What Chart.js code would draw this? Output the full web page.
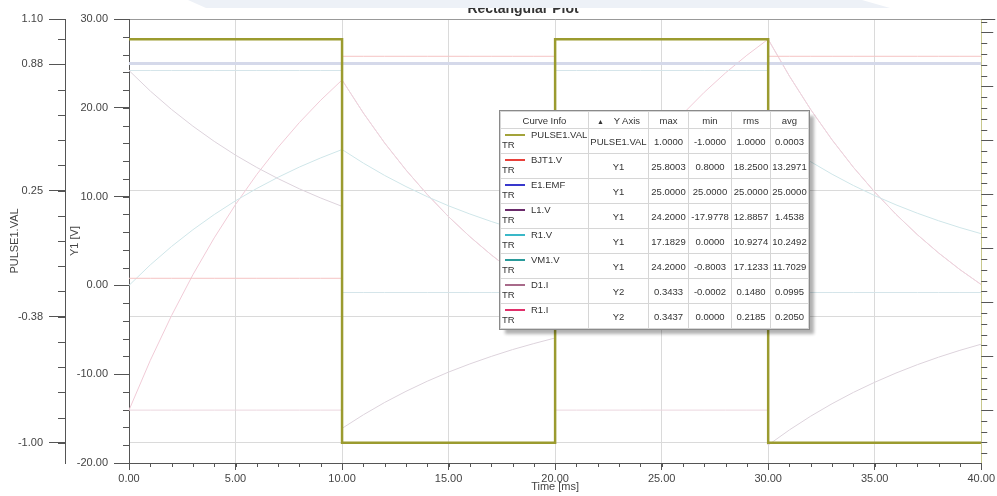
<!DOCTYPE html>
<html>
<head>
<meta charset="utf-8">
<script src="https://cdn.jsdelivr.net/npm/chart.js@4.4.1/dist/chart.umd.min.js"></script>
<style>
  body { margin: 0; background: #fff; }
  #wrap { position: relative; width: 997px; height: 496px; }
  #curveTable {
    position: absolute; left: 500px; top: 111px;
    border-collapse: collapse; table-layout: fixed; background: #fff;
    outline: 1px solid #8a8a8a;
    box-shadow: 5px 5px 3px rgba(0, 0, 0, 0.3);
    font: 9.5px "Liberation Sans", Arial, sans-serif; color: #333;
  }
  #curveTable th, #curveTable td {
    border: 1px solid #d6d6d6; padding: 0; text-align: center;
    font-weight: normal; white-space: nowrap; overflow: hidden;
  }
  #curveTable tr.head { height: 17px; }
  #curveTable tr.row { height: 25px; }
  .cell { position: relative; height: 24px; }
  .swatch { position: absolute; left: 4px; top: 5px; width: 20px; height: 2px; }
  .nm { position: absolute; left: 30px; top: 0px; }
  .tr { position: absolute; left: 1px; top: 10px; }
  .tri { font-size: 7px; margin-right: 10px; }
</style>
</head>
<body>
<div id="wrap">
  <canvas id="plot" width="997" height="496"></canvas>
  <table id="curveTable"></table>
</div>
<script>
// time base, ms (edges listed twice so the steps stay vertical)
const timeMs = [
  0, 1, 2, 3, 4, 5, 6, 7, 8, 9, 10,
  10, 11, 12, 13, 14, 15, 16, 17, 18, 19, 20,
  20, 21, 22, 23, 24, 25, 26, 27, 28, 29, 30,
  30, 31, 32, 33, 34, 35, 36, 37, 38, 39, 40
];

const pulseVal = [
  1, 1, 1, 1, 1, 1, 1, 1, 1, 1, 1,
  -1, -1, -1, -1, -1, -1, -1, -1, -1, -1, -1,
  1, 1, 1, 1, 1, 1, 1, 1, 1, 1, 1,
  -1, -1, -1, -1, -1, -1, -1, -1, -1, -1, -1
];

const bjtV = [
  0.8, 0.8, 0.8, 0.8, 0.8, 0.8, 0.8, 0.8, 0.8, 0.8, 0.8,
  25.8, 25.8, 25.8, 25.8, 25.8, 25.8, 25.8, 25.8, 25.8, 25.8, 25.8,
  0.8, 0.8, 0.8, 0.8, 0.8, 0.8, 0.8, 0.8, 0.8, 0.8, 0.8,
  25.8, 25.8, 25.8, 25.8, 25.8, 25.8, 25.8, 25.8, 25.8, 25.8, 25.8
];

const emfV = [
  25, 25, 25, 25, 25, 25, 25, 25, 25, 25, 25,
  25, 25, 25, 25, 25, 25, 25, 25, 25, 25, 25,
  25, 25, 25, 25, 25, 25, 25, 25, 25, 25, 25,
  25, 25, 25, 25, 25, 25, 25, 25, 25, 25, 25
];

const l1V = [
  24.20, 21.89, 19.81, 17.93, 16.22, 14.67, 13.28, 12.02, 10.87, 9.84, 8.90,
  -16.10, -14.57, -13.18, -11.93, -10.79, -9.76, -8.84, -8.00, -7.23, -6.55, -5.92,
  19.08, 17.26, 15.62, 14.13, 12.79, 11.57, 10.47, 9.47, 8.57, 7.76, 7.02,
  -17.98, -16.27, -14.72, -13.32, -12.05, -10.91, -9.87, -8.93, -8.08, -7.31, -6.62
];

const r1V = [
  0, 2.31, 4.39, 6.27, 7.98, 9.53, 10.92, 12.18, 13.33, 14.36, 15.30,
  15.30, 13.77, 12.38, 11.13, 9.99, 8.96, 8.04, 7.20, 6.43, 5.75, 5.12,
  5.12, 6.94, 8.58, 10.07, 11.41, 12.63, 13.73, 14.73, 15.63, 16.44, 17.18,
  17.18, 15.47, 13.92, 12.52, 11.25, 10.11, 9.07, 8.13, 7.28, 6.51, 5.82
];

const vm1V = [
  24.2, 24.2, 24.2, 24.2, 24.2, 24.2, 24.2, 24.2, 24.2, 24.2, 24.2,
  -0.8, -0.8, -0.8, -0.8, -0.8, -0.8, -0.8, -0.8, -0.8, -0.8, -0.8,
  24.2, 24.2, 24.2, 24.2, 24.2, 24.2, 24.2, 24.2, 24.2, 24.2, 24.2,
  -0.8, -0.8, -0.8, -0.8, -0.8, -0.8, -0.8, -0.8, -0.8, -0.8, -0.8
];

const d1I = [
  0, 0, 0, 0, 0, 0, 0, 0, 0, 0, 0,
  0.3059, 0.2753, 0.2475, 0.2225, 0.1998, 0.1792, 0.1607, 0.1439, 0.1286, 0.1149, 0.1024,
  0, 0, 0, 0, 0, 0, 0, 0, 0, 0, 0,
  0.3433, 0.3094, 0.2784, 0.2504, 0.2250, 0.2021, 0.1814, 0.1626, 0.1456, 0.1302, 0.1163
];

const r1I = [
  0, 0.0461, 0.0877, 0.1255, 0.1596, 0.1905, 0.2184, 0.2436, 0.2665, 0.2872, 0.3059,
  0.3059, 0.2753, 0.2475, 0.2225, 0.1998, 0.1792, 0.1607, 0.1439, 0.1286, 0.1149, 0.1024,
  0.1024, 0.1387, 0.1716, 0.2013, 0.2282, 0.2526, 0.2746, 0.2945, 0.3125, 0.3288, 0.3437,
  0.3437, 0.3094, 0.2784, 0.2504, 0.2250, 0.2021, 0.1814, 0.1626, 0.1456, 0.1302, 0.1163
];

// axis ticks
const pulseTicks = [-1.0, -0.375, 0.25, 0.875, 1.1];
const y1Ticks = [-20, -10, 0, 10, 20, 30];
const timeTicks = [0, 5, 10, 15, 20, 25, 30, 35, 40];

// curve info table
const curveNames = ['PULSE1.VAL', 'BJT1.V', 'E1.EMF', 'L1.V', 'R1.V', 'VM1.V', 'D1.I', 'R1.I'];
const curveAxes = ['PULSE1.VAL', 'Y1', 'Y1', 'Y1', 'Y1', 'Y1', 'Y2', 'Y2'];
const curveMax = [1.0, 25.8003, 25.0, 24.2, 17.1829, 24.2, 0.3433, 0.3437];
const curveMin = [-1.0, 0.8, 25.0, -17.9778, 0.0, -0.8003, -0.0002, 0.0];
const curveRms = [1.0, 18.25, 25.0, 12.8857, 10.9274, 17.1233, 0.148, 0.2185];
const curveAvg = [0.0003, 13.2971, 25.0, 1.4538, 10.2492, 11.7029, 0.0995, 0.205];

const swatchColors = ['#a3a33a', '#e8403a', '#3838cc', '#6a2a6a', '#3ab8c8', '#2a9a9a', '#a86a8a', '#e0306a'];

const FONT = '"Liberation Sans", Arial, sans-serif';
const pts = ys => timeMs.map((t, i) => ({ x: t, y: ys[i] }));

// table
const tbl = document.getElementById('curveTable');
let html = '<colgroup><col style="width:88px"><col style="width:60px"><col style="width:40px">' +
  '<col style="width:43px"><col style="width:39px"><col style="width:38px"></colgroup>';
html += '<tr class="head"><th>Curve Info</th><th><span class="tri">&#9650;</span>Y Axis</th>' +
  '<th>max</th><th>min</th><th>rms</th><th>avg</th></tr>';
curveNames.forEach((name, i) => {
  html += '<tr class="row"><td><div class="cell">' +
    '<span class="swatch" style="background:' + swatchColors[i] + '"></span>' +
    '<span class="nm">' + name + '</span><span class="tr">TR</span></div></td>' +
    '<td>' + curveAxes[i] + '</td>' +
    '<td>' + curveMax[i].toFixed(4) + '</td>' +
    '<td>' + curveMin[i].toFixed(4) + '</td>' +
    '<td>' + curveRms[i].toFixed(4) + '</td>' +
    '<td>' + curveAvg[i].toFixed(4) + '</td></tr>';
});
tbl.innerHTML = html;

// minor tick marks, title and header band
const decorations = {
  id: 'decorations',
  afterDraw(chart) {
    const ctx = chart.ctx;
    const s = chart.scales;
    ctx.save();
    ctx.strokeStyle = '#555';
    ctx.lineWidth = 1;
    ctx.beginPath();
    for (let k = -8; k <= 8; k++) {
      const y = Math.round(s.pulse.getPixelForValue(k * 0.125)) + 0.5;
      ctx.moveTo(s.pulse.right - 7, y); ctx.lineTo(s.pulse.right, y);
    }
    for (let v = -20; v <= 30; v += 2) {
      const y = Math.round(s.y1.getPixelForValue(v)) + 0.5;
      ctx.moveTo(s.y1.right - 6, y); ctx.lineTo(s.y1.right, y);
    }
    for (let v = 0; v <= 40; v += 1) {
      const x = Math.round(s.x.getPixelForValue(v)) + 0.5;
      ctx.moveTo(x, s.x.top); ctx.lineTo(x, s.x.top + 4);
    }
    for (let k = -4; k <= 36; k++) {
      const y = Math.round(s.y2.getPixelForValue(k / 100)) + 0.5;
      const len = k % 5 === 0 ? 12 : 6;
      ctx.moveTo(s.y2.left, y); ctx.lineTo(s.y2.left + len, y);
    }
    const yTop = Math.round(s.y2.top) + 0.5;
    ctx.moveTo(s.y2.left, yTop); ctx.lineTo(s.y2.left + 14, yTop);
    ctx.stroke();

    ctx.fillStyle = '#333';
    ctx.font = 'bold 14px ' + FONT;
    ctx.textAlign = 'center';
    ctx.textBaseline = 'alphabetic';
    ctx.fillText('Rectangular Plot', 523, 13);

    ctx.fillStyle = '#edf1f7';
    ctx.beginPath();
    ctx.moveTo(188, 0); ctx.lineTo(862, 0); ctx.lineTo(890, 8); ctx.lineTo(206, 8);
    ctx.closePath();
    ctx.fill();
    ctx.restore();
  }
};

new Chart(document.getElementById('plot'), {
  type: 'line',
  data: {
    datasets: [
      { label: 'PULSE1.VAL', data: pts(pulseVal), yAxisID: 'pulse', borderColor: '#9b9b2f', borderWidth: 2.5 },
      { label: 'BJT1.V', data: pts(bjtV), yAxisID: 'y1', borderColor: '#f5c4c4', borderWidth: 1 },
      { label: 'E1.EMF', data: pts(emfV), yAxisID: 'y1', borderColor: '#d5d9ea', borderWidth: 3 },
      { label: 'L1.V', data: pts(l1V), yAxisID: 'y1', borderColor: '#ddd3dc', borderWidth: 1 },
      { label: 'R1.V', data: pts(r1V), yAxisID: 'y1', borderColor: '#cfe6e9', borderWidth: 1 },
      { label: 'VM1.V', data: pts(vm1V), yAxisID: 'y1', borderColor: '#d5e5ea', borderWidth: 1 },
      { label: 'D1.I', data: pts(d1I), yAxisID: 'y2', borderColor: '#ecd6df', borderWidth: 1 },
      { label: 'R1.I', data: pts(r1I), yAxisID: 'y2', borderColor: '#f1cbd7', borderWidth: 1 }
    ]
  },
  options: {
    responsive: false,
    animation: false,
    layout: { padding: { top: 19 } },
    elements: { point: { radius: 0 }, line: { tension: 0 } },
    plugins: { legend: { display: false }, tooltip: { enabled: false } },
    scales: {
      x: {
        type: 'linear', position: 'bottom', min: 0, max: 40,
        afterBuildTicks: s => { s.ticks = timeTicks.map(v => ({ value: v })); },
        ticks: { callback: v => v.toFixed(2), color: '#444', font: { family: FONT, size: 11 }, padding: 2, maxRotation: 0 },
        grid: { color: '#dadada', tickColor: '#555', tickLength: 7 },
        border: { color: '#555' },
        title: { display: true, text: 'Time [ms]', color: '#444', font: { family: FONT, size: 11 }, padding: { top: 0, bottom: 2 } },
        afterFit: s => { s.height = 33; }
      },
      pulse: {
        type: 'linear', position: 'left', weight: 1, min: -1.1, max: 1.1,
        afterBuildTicks: s => { s.ticks = pulseTicks.map(v => ({ value: v })); },
        ticks: { callback: v => v.toFixed(2), color: '#444', font: { family: FONT, size: 11 }, padding: 6 },
        grid: {
          color: c => (c.tick && c.tick.value > 1.09) ? '#999' : '#dadada',
          tickColor: '#555', tickLength: 16
        },
        border: { color: '#555' },
        title: { display: true, text: 'PULSE1.VAL', color: '#444', font: { family: FONT, size: 11 }, padding: { top: 8, bottom: 0 } },
        afterFit: s => { s.width = 65; }
      },
      y1: {
        type: 'linear', position: 'left', weight: 0, min: -20, max: 30,
        afterBuildTicks: s => { s.ticks = y1Ticks.map(v => ({ value: v })); },
        ticks: { callback: v => v.toFixed(2), color: '#444', font: { family: FONT, size: 11 }, padding: 6 },
        grid: { drawOnChartArea: false, tickColor: '#555', tickLength: 15 },
        border: { color: '#555' },
        title: { display: true, text: 'Y1 [V]', color: '#444', font: { family: FONT, size: 11 }, padding: { top: 3, bottom: 0 } },
        afterFit: s => { s.width = 64; }
      },
      y2: {
        type: 'linear', position: 'right', min: -0.049, max: 0.3624,
        ticks: { display: false },
        grid: { drawOnChartArea: false, drawTicks: false },
        border: { color: '#c8c88c' },
        afterFit: s => { s.width = 14; }
      }
    }
  },
  plugins: [decorations]
});
</script>
</body>
</html>
